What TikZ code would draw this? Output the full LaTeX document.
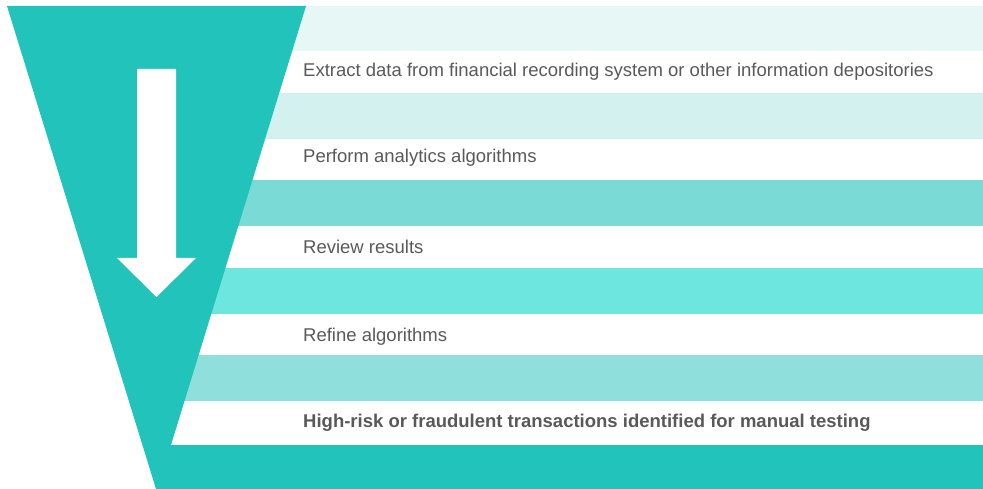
\documentclass[tikz,border=0pt]{standalone}
\usepackage{fontspec}
\setmainfont{Liberation Sans}

\definecolor{funnelteal}{HTML}{22C3BB}
\definecolor{bandone}{HTML}{E6F7F6}
\definecolor{bandtwo}{HTML}{D3F1EF}
\definecolor{bandthree}{HTML}{7ADAD5}
\definecolor{bandfour}{HTML}{6EE6E0}
\definecolor{bandfive}{HTML}{8FE0DC}
\definecolor{labelgray}{HTML}{595959}

\tikzset{
  steptext/.style={anchor=base west, inner sep=0pt, text=labelgray,
    font=\fontsize{18.5}{22}\selectfont},
}

\begin{document}
\begin{tikzpicture}[x=1pt,y=-1pt]
      \useasboundingbox (0,0) rectangle (983,489);
      % routine for bands
      \fill[bandone]   (150,6)   rectangle (983,51);
      \fill[bandtwo]   (150,93)  rectangle (983,139);
      \fill[bandthree] (150,180) rectangle (983,226);
      \fill[bandfour]  (150,268) rectangle (983,314);
      \fill[bandfive]  (150,355) rectangle (983,401);
      % funnel
      \fill[funnelteal] (7,6) -- (306,6) -- (171,445) -- (983,445)
            -- (983,489) -- (156,489) -- cycle;
      % arrow
      \fill[white] (137,69) -- (176,69) -- (176,258) -- (196,258)
            -- (156.5,297) -- (117,258) -- (137,258) -- cycle;
      % labels
      \node[steptext] (extract) at (303,77)
            {Extract data from financial recording system or other information depositories};
      \node[steptext] (perform) at (303,163) {Perform analytics algorithms};
      \node[steptext] (review)  at (303,254) {Review results};
      \node[steptext] (refine)  at (303,341) {Refine algorithms};
      \node[steptext,font=\fontsize{18.5}{22}\selectfont\bfseries] (highrisk) at (303,427)
            {High-risk or fraudulent transactions identified for manual testing};
    \end{tikzpicture}
\end{document}
